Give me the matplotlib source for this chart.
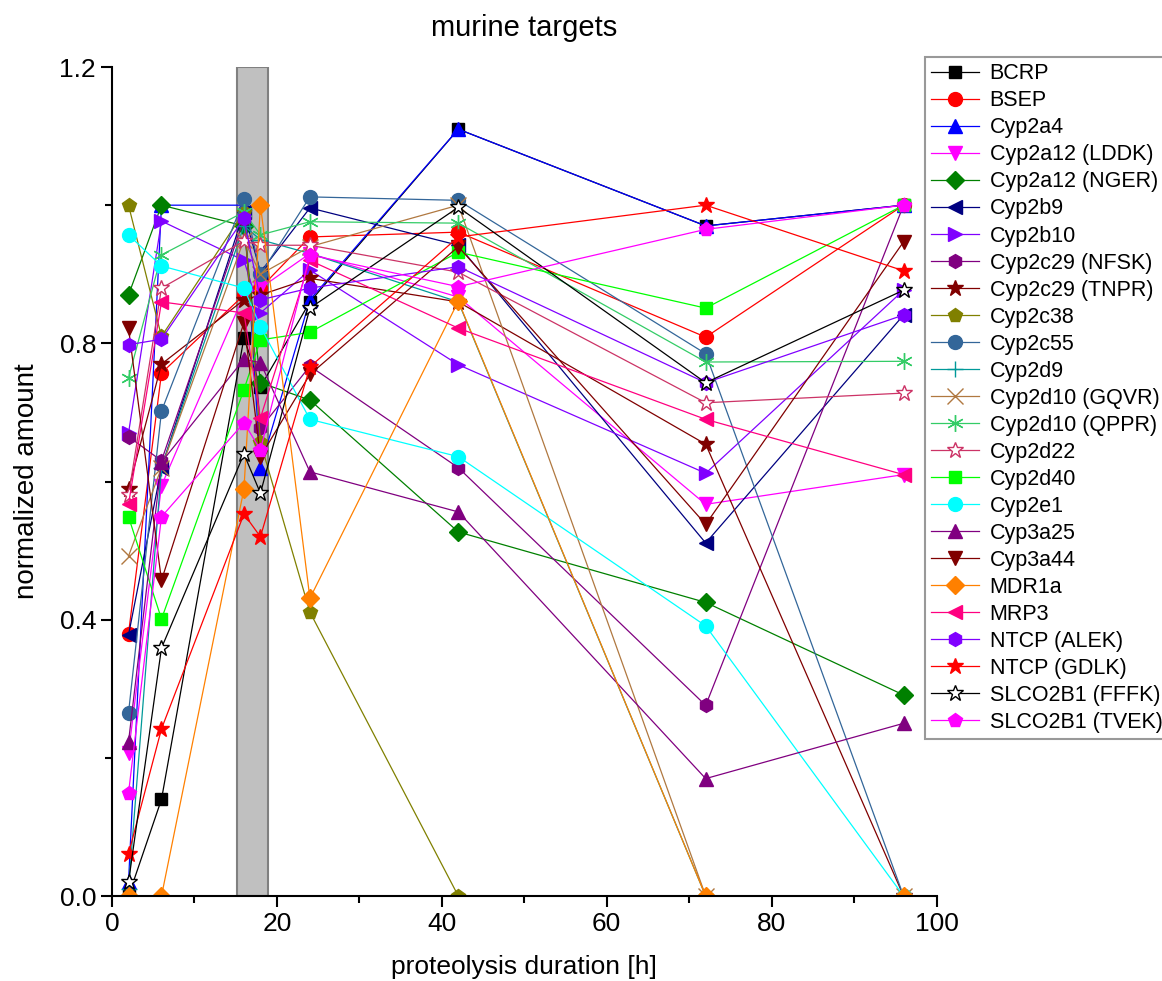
import matplotlib.pyplot as plt
from matplotlib.ticker import MultipleLocator

plt.rcParams['font.family'] = ['Liberation Sans', 'DejaVu Sans']

hours = [2, 6, 16, 18, 24, 42, 72, 96]

labels = ["BCRP", "BSEP", "Cyp2a4", "Cyp2a12 (LDDK)", "Cyp2a12 (NGER)", "Cyp2b9",
          "Cyp2b10", "Cyp2c29 (NFSK)", "Cyp2c29 (TNPR)", "Cyp2c38", "Cyp2c55", "Cyp2d9",
          "Cyp2d10 (GQVR)", "Cyp2d10 (QPPR)", "Cyp2d22", "Cyp2d40", "Cyp2e1", "Cyp3a25",
          "Cyp3a44", "MDR1a", "MRP3", "NTCP (ALEK)", "NTCP (GDLK)", "SLCO2B1 (FFFK)",
          "SLCO2B1 (TVEK)"]

bcrp       = [0.0, 0.14, 0.808, 0.737, 0.86, 1.11, 0.97, 1.0]
bsep       = [0.38, 0.757, 0.87, 0.88, 0.954, 0.961, 0.809, 1.0]
cyp2a4     = [0.02, 1.0, 1.0, 0.62, 0.863, 1.11, 0.97, 1.0]
cyp2a12_l  = [0.207, 0.594, 0.87, 0.88, 0.93, 0.867, 0.567, 0.61]
cyp2a12_n  = [0.87, 1.0, 0.97, 0.743, 0.718, 0.527, 0.425, 0.291]
cyp2b9     = [0.378, 0.62, 0.99, 0.903, 0.996, 0.942, 0.511, 0.841]
cyp2b10    = [0.67, 0.977, 0.92, 0.844, 0.906, 0.769, 0.612, 0.877]
cyp2c29_n  = [0.665, 0.63, 0.98, 0.677, 0.767, 0.62, 0.276, 1.0]
cyp2c29_t  = [0.589, 0.77, 0.863, 0.87, 0.894, 0.86, 0.654, 0.0]
cyp2c38    = [1.0, 0.81, 0.99, 0.657, 0.411, 0.0, 0.0, 0.0]
cyp2c55    = [0.265, 0.702, 1.009, 0.9, 1.012, 1.007, 0.785, 0.0]
cyp2d9     = [0.01, 0.62, 0.97, 0.95, 0.93, 0.86, 0.0, 0.0]
cyp2d10_g  = [0.492, 0.62, 0.95, 0.9, 0.94, 1.0, 0.0, 0.0]
cyp2d10_q  = [0.75, 0.928, 0.99, 0.957, 0.976, 0.974, 0.773, 0.774]
cyp2d22    = [0.58, 0.88, 0.948, 0.942, 0.942, 0.903, 0.714, 0.728]
cyp2d40    = [0.549, 0.401, 0.733, 0.805, 0.816, 0.932, 0.851, 1.0]
cyp2e1     = [0.957, 0.912, 0.88, 0.824, 0.69, 0.636, 0.391, 0.0]
cyp3a25    = [0.223, 0.628, 0.777, 0.772, 0.614, 0.556, 0.17, 0.25]
cyp3a44    = [0.822, 0.457, 0.83, 0.636, 0.755, 0.94, 0.538, 0.947]
mdr1a      = [0.0, 0.0, 0.589, 1.0, 0.431, 0.861, 0.0, 0.0]
mrp3       = [0.567, 0.86, 0.844, 0.692, 0.92, 0.822, 0.69, 0.61]
ntcp_alek  = [0.798, 0.806, 0.981, 0.863, 0.88, 0.911, 0.743, 0.841]
ntcp_gdlk  = [0.061, 0.242, 0.553, 0.52, 0.766, 0.954, 1.0, 0.905]
slco_fffk  = [0.02, 0.359, 0.64, 0.583, 0.851, 0.997, 0.743, 0.877]
slco_tvek  = [0.149, 0.549, 0.685, 0.646, 0.928, 0.882, 0.965, 1.0]

series = [bcrp, bsep, cyp2a4, cyp2a12_l, cyp2a12_n, cyp2b9, cyp2b10, cyp2c29_n,
          cyp2c29_t, cyp2c38, cyp2c55, cyp2d9, cyp2d10_g, cyp2d10_q, cyp2d22, cyp2d40,
          cyp2e1, cyp3a25, cyp3a44, mdr1a, mrp3, ntcp_alek, ntcp_gdlk, slco_fffk,
          slco_tvek]

colors = ["#000000", "#FF0000", "#0000FF", "#FF00FF", "#008000", "#000080",
          "#8000FF", "#800080", "#800000", "#808000", "#336699", "#009999",
          "#B07840", "#33CC66", "#CC3366", "#00FF00", "#00FFFF", "#800080",
          "#800000", "#FF8000", "#FF0080", "#8000FF", "#FF0000", "#000000",
          "#FF00FF"]
markers = ["s", "o", "^", "v", "D", "<", ">", "h", "*", "p", "o", "+", "x",
           (6, 2, 0), "*", "s", "o", "^", "v", "D", "<", "h", "*", "*", "p"]
sizes = [9, 10, 10, 10, 9, 10, 10, 10, 12, 10, 10, 11, 11, 12, 12, 9, 10, 10,
         10, 9, 10, 10, 12, 12, 10]
open_marker = {14, 23}  # white-filled stars

fig = plt.figure(figsize=(11.62, 9.81), dpi=100)
ax = fig.add_axes([0.0964, 0.0866, 0.7096, 0.8451])

# time window highlighted in gray
ax.axvspan(15.2, 18.9, facecolor="#C0C0C0", edgecolor="#808080", linewidth=1.5, zorder=0)

for i, (lab, vals) in enumerate(zip(labels, series)):
    face = "white" if i in open_marker else colors[i]
    ax.plot(hours, vals, color=colors[i], linewidth=0.9, marker=markers[i],
            markersize=sizes[i], markerfacecolor=face, markeredgecolor=colors[i],
            markeredgewidth=1.0, label=lab, zorder=2 + i * 0.01)

ax.set_xlim(0, 100)
ax.set_ylim(0, 1.2)
ax.xaxis.set_major_locator(MultipleLocator(20))
ax.xaxis.set_minor_locator(MultipleLocator(10))
ax.yaxis.set_major_locator(MultipleLocator(0.4))
ax.yaxis.set_minor_locator(MultipleLocator(0.2))
ax.yaxis.set_ticks([0, 0.4, 0.8, 1.2])
ax.set_yticklabels([f"{v:.1f}" for v in [0, 0.4, 0.8, 1.2]])
ax.tick_params(which="major", length=8, width=1.5, labelsize=19, direction="out")
ax.tick_params(which="minor", length=5, width=1.5, direction="out")
for side in ["top", "right"]:
    ax.spines[side].set_visible(False)
for side in ["left", "bottom"]:
    ax.spines[side].set_linewidth(1.5)

ax.set_title("murine targets", fontsize=21, pad=22)
ax.set_ylabel("normalized amount", fontsize=20, labelpad=14)
ax.set_xlabel("proteolysis duration [h]", fontsize=19, labelpad=14)

leg = fig.legend(loc="upper left", bbox_to_anchor=(0.796, 0.942), fontsize=15.5,
                 frameon=True, fancybox=False, edgecolor="#808080",
                 labelspacing=0.28, handlelength=2.2, handletextpad=0.5,
                 borderpad=0.3, borderaxespad=0)
leg.get_frame().set_linewidth(1.5)

fig.savefig("out.png", dpi=100)
